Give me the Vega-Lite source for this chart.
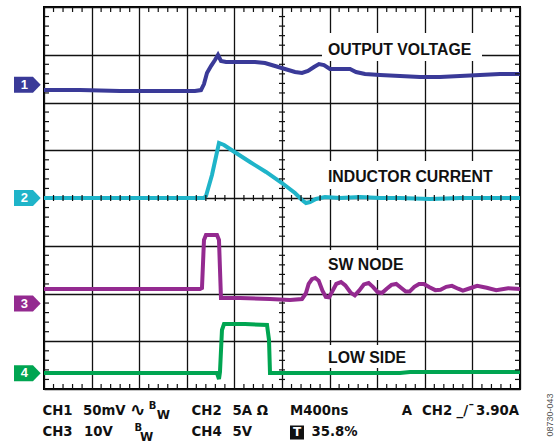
{
  "$schema": "https://vega.github.io/schema/vega-lite/v6.json",
  "width": 476,
  "height": 382,
  "autosize": {"type": "none"},
  "padding": {"left": 44, "top": 7, "right": 35, "bottom": 58},
  "background": "white",
  "config": {
    "view": {"stroke": "black", "strokeWidth": 2, "fill": "white"},
    "axis": {"labels": false, "title": null, "grid": false, "domain": false}
  },
  "datasets": {
    "traces": [
      {"ch": "1", "t": 0, "v": 6.262}, {"ch": "1", "t": 0.756, "v": 6.26}, {"ch": "1", "t": 1.597, "v": 6.241}, {"ch": "1", "t": 2.437, "v": 6.24}, {"ch": "1", "t": 3.172, "v": 6.24}, {"ch": "1", "t": 3.298, "v": 6.26}, {"ch": "1", "t": 3.361, "v": 6.387}, {"ch": "1", "t": 3.424, "v": 6.618}, {"ch": "1", "t": 3.508, "v": 6.764}, {"ch": "1", "t": 3.592, "v": 6.89}, {"ch": "1", "t": 3.655, "v": 6.995}, {"ch": "1", "t": 3.718, "v": 6.869}, {"ch": "1", "t": 3.824, "v": 6.848}, {"ch": "1", "t": 4.118, "v": 6.848}, {"ch": "1", "t": 4.433, "v": 6.848}, {"ch": "1", "t": 4.643, "v": 6.827}, {"ch": "1", "t": 4.853, "v": 6.764}, {"ch": "1", "t": 5.063, "v": 6.702}, {"ch": "1", "t": 5.273, "v": 6.639}, {"ch": "1", "t": 5.42, "v": 6.618}, {"ch": "1", "t": 5.546, "v": 6.66}, {"ch": "1", "t": 5.672, "v": 6.743}, {"ch": "1", "t": 5.777, "v": 6.806}, {"ch": "1", "t": 5.882, "v": 6.785}, {"ch": "1", "t": 6.008, "v": 6.702}, {"ch": "1", "t": 6.218, "v": 6.702}, {"ch": "1", "t": 6.429, "v": 6.702}, {"ch": "1", "t": 6.555, "v": 6.639}, {"ch": "1", "t": 6.744, "v": 6.597}, {"ch": "1", "t": 7.059, "v": 6.576}, {"ch": "1", "t": 7.479, "v": 6.555}, {"ch": "1", "t": 7.899, "v": 6.534}, {"ch": "1", "t": 8.319, "v": 6.534}, {"ch": "1", "t": 8.739, "v": 6.555}, {"ch": "1", "t": 9.16, "v": 6.576}, {"ch": "1", "t": 9.58, "v": 6.597}, {"ch": "1", "t": 10, "v": 6.597},
      {"ch": "2", "t": 0, "v": 4.0}, {"ch": "2", "t": 1.597, "v": 4.0}, {"ch": "2", "t": 3.361, "v": 4.0}, {"ch": "2", "t": 3.403, "v": 4.042}, {"ch": "2", "t": 3.529, "v": 4.482}, {"ch": "2", "t": 3.676, "v": 5.152}, {"ch": "2", "t": 3.782, "v": 5.11}, {"ch": "2", "t": 3.971, "v": 4.984}, {"ch": "2", "t": 4.328, "v": 4.754}, {"ch": "2", "t": 4.664, "v": 4.545}, {"ch": "2", "t": 5.0, "v": 4.314}, {"ch": "2", "t": 5.273, "v": 4.105}, {"ch": "2", "t": 5.42, "v": 3.958}, {"ch": "2", "t": 5.504, "v": 3.895}, {"ch": "2", "t": 5.588, "v": 3.916}, {"ch": "2", "t": 5.714, "v": 3.979}, {"ch": "2", "t": 5.903, "v": 4.021}, {"ch": "2", "t": 6.218, "v": 4.0}, {"ch": "2", "t": 6.639, "v": 4.021}, {"ch": "2", "t": 7.059, "v": 4.0}, {"ch": "2", "t": 7.479, "v": 4.0}, {"ch": "2", "t": 8.109, "v": 3.979}, {"ch": "2", "t": 8.739, "v": 4.0}, {"ch": "2", "t": 9.37, "v": 4.0}, {"ch": "2", "t": 10, "v": 4.0},
      {"ch": "3", "t": 0, "v": 2.094}, {"ch": "3", "t": 1.597, "v": 2.094}, {"ch": "3", "t": 3.277, "v": 2.094}, {"ch": "3", "t": 3.319, "v": 2.115}, {"ch": "3", "t": 3.361, "v": 3.12}, {"ch": "3", "t": 3.403, "v": 3.225}, {"ch": "3", "t": 3.634, "v": 3.225}, {"ch": "3", "t": 3.676, "v": 3.12}, {"ch": "3", "t": 3.718, "v": 1.906}, {"ch": "3", "t": 4.118, "v": 1.906}, {"ch": "3", "t": 4.748, "v": 1.885}, {"ch": "3", "t": 5.168, "v": 1.864}, {"ch": "3", "t": 5.42, "v": 1.885}, {"ch": "3", "t": 5.5, "v": 2.0}, {"ch": "3", "t": 5.56, "v": 2.2}, {"ch": "3", "t": 5.63, "v": 2.3}, {"ch": "3", "t": 5.7, "v": 2.325}, {"ch": "3", "t": 5.77, "v": 2.27}, {"ch": "3", "t": 5.85, "v": 2.06}, {"ch": "3", "t": 5.92, "v": 1.93}, {"ch": "3", "t": 5.99, "v": 1.92}, {"ch": "3", "t": 6.06, "v": 2.05}, {"ch": "3", "t": 6.14, "v": 2.2}, {"ch": "3", "t": 6.24, "v": 2.24}, {"ch": "3", "t": 6.33, "v": 2.17}, {"ch": "3", "t": 6.44, "v": 2.02}, {"ch": "3", "t": 6.53, "v": 1.96}, {"ch": "3", "t": 6.62, "v": 2.06}, {"ch": "3", "t": 6.72, "v": 2.19}, {"ch": "3", "t": 6.82, "v": 2.22}, {"ch": "3", "t": 6.91, "v": 2.14}, {"ch": "3", "t": 7.01, "v": 2.03}, {"ch": "3", "t": 7.1, "v": 2.01}, {"ch": "3", "t": 7.2, "v": 2.1}, {"ch": "3", "t": 7.3, "v": 2.18}, {"ch": "3", "t": 7.4, "v": 2.2}, {"ch": "3", "t": 7.5, "v": 2.12}, {"ch": "3", "t": 7.6, "v": 2.04}, {"ch": "3", "t": 7.68, "v": 2.04}, {"ch": "3", "t": 7.78, "v": 2.14}, {"ch": "3", "t": 7.88, "v": 2.2}, {"ch": "3", "t": 7.98, "v": 2.2}, {"ch": "3", "t": 8.1, "v": 2.13}, {"ch": "3", "t": 8.22, "v": 2.07}, {"ch": "3", "t": 8.33, "v": 2.08}, {"ch": "3", "t": 8.45, "v": 2.14}, {"ch": "3", "t": 8.57, "v": 2.16}, {"ch": "3", "t": 8.7, "v": 2.1}, {"ch": "3", "t": 8.8, "v": 2.06}, {"ch": "3", "t": 8.95, "v": 2.11}, {"ch": "3", "t": 9.1, "v": 2.16}, {"ch": "3", "t": 9.3, "v": 2.12}, {"ch": "3", "t": 9.5, "v": 2.07}, {"ch": "3", "t": 9.75, "v": 2.11}, {"ch": "3", "t": 10, "v": 2.094},
      {"ch": "4", "t": 0, "v": 0.335}, {"ch": "4", "t": 1.597, "v": 0.335}, {"ch": "4", "t": 3.277, "v": 0.335}, {"ch": "4", "t": 3.634, "v": 0.335}, {"ch": "4", "t": 3.676, "v": 0.209}, {"ch": "4", "t": 3.697, "v": 0.356}, {"ch": "4", "t": 3.739, "v": 1.236}, {"ch": "4", "t": 3.782, "v": 1.361}, {"ch": "4", "t": 4.223, "v": 1.361}, {"ch": "4", "t": 4.685, "v": 1.34}, {"ch": "4", "t": 4.727, "v": 1.026}, {"ch": "4", "t": 4.748, "v": 0.335}, {"ch": "4", "t": 5.378, "v": 0.335}, {"ch": "4", "t": 7.479, "v": 0.335}, {"ch": "4", "t": 7.689, "v": 0.356}, {"ch": "4", "t": 10, "v": 0.356}
    ],
    "xdiv": [
      {"d": 0.2}, {"d": 0.4}, {"d": 0.6}, {"d": 0.8}, {"d": 1.2}, {"d": 1.4}, {"d": 1.6}, {"d": 1.8}, {"d": 2.2}, {"d": 2.4}, {"d": 2.6}, {"d": 2.8}, {"d": 3.2}, {"d": 3.4}, {"d": 3.6}, {"d": 3.8}, {"d": 4.2}, {"d": 4.4}, {"d": 4.6}, {"d": 4.8}, {"d": 5.2}, {"d": 5.4}, {"d": 5.6}, {"d": 5.8}, {"d": 6.2}, {"d": 6.4}, {"d": 6.6}, {"d": 6.8}, {"d": 7.2}, {"d": 7.4}, {"d": 7.6}, {"d": 7.8}, {"d": 8.2}, {"d": 8.4}, {"d": 8.6}, {"d": 8.8}, {"d": 9.2}, {"d": 9.4}, {"d": 9.6}, {"d": 9.8}
    ],
    "ydiv": [
      {"d": 0.2}, {"d": 0.4}, {"d": 0.6}, {"d": 0.8}, {"d": 1.2}, {"d": 1.4}, {"d": 1.6}, {"d": 1.8}, {"d": 2.2}, {"d": 2.4}, {"d": 2.6}, {"d": 2.8}, {"d": 3.2}, {"d": 3.4}, {"d": 3.6}, {"d": 3.8}, {"d": 4.2}, {"d": 4.4}, {"d": 4.6}, {"d": 4.8}, {"d": 5.2}, {"d": 5.4}, {"d": 5.6}, {"d": 5.8}, {"d": 6.2}, {"d": 6.4}, {"d": 6.6}, {"d": 6.8}, {"d": 7.2}, {"d": 7.4}, {"d": 7.6}, {"d": 7.8}
    ],
    "boxes": [
      {"x1": 5.84, "x2": 9.202, "y1": 7.455, "y2": 6.869},
      {"x1": 5.84, "x2": 9.538, "y1": 4.775, "y2": 4.189},
      {"x1": 5.84, "x2": 7.71, "y1": 2.911, "y2": 2.283},
      {"x1": 5.84, "x2": 7.773, "y1": 0.921, "y2": 0.44}
    ],
    "labels": [
      {"label": "OUTPUT VOLTAGE", "x": 5.966, "y": 7.099},
      {"label": "INDUCTOR CURRENT", "x": 5.966, "y": 4.44},
      {"label": "SW NODE", "x": 5.966, "y": 2.597},
      {"label": "LOW SIDE", "x": 5.966, "y": 0.649}
    ],
    "markers": [
      {"ch": "1", "x": -0.35, "y": 6.37},
      {"ch": "2", "x": -0.35, "y": 4.0},
      {"ch": "3", "x": -0.35, "y": 1.79},
      {"ch": "4", "x": -0.35, "y": 0.33}
    ],
    "footer": [
      {"text": "CH1", "x": -0.032, "y": -0.471, "kind": "main"},
      {"text": "50mV", "x": 0.819, "y": -0.471, "kind": "main"},
      {"text": "∿", "x": 1.8, "y": -0.471, "kind": "wave"},
      {"text": "CH2", "x": 3.099, "y": -0.471, "kind": "main"},
      {"text": "5A Ω", "x": 3.962, "y": -0.471, "kind": "main"},
      {"text": "M400ns", "x": 5.168, "y": -0.471, "kind": "main"},
      {"text": "A", "x": 7.517, "y": -0.471, "kind": "main"},
      {"text": "CH2", "x": 7.941, "y": -0.471, "kind": "main"},
      {"text": "_/¯", "x": 8.668, "y": -0.471, "kind": "main"},
      {"text": "3.90A", "x": 9.076, "y": -0.471, "kind": "main"},
      {"text": "CH3", "x": -0.032, "y": -0.909, "kind": "main"},
      {"text": "10V", "x": 0.84, "y": -0.909, "kind": "main"},
      {"text": "CH4", "x": 3.099, "y": -0.909, "kind": "main"},
      {"text": "5V", "x": 3.962, "y": -0.909, "kind": "main"},
      {"text": "35.8%", "x": 5.62, "y": -0.909, "kind": "main"},
      {"text": "B", "x": 2.2, "y": -0.346, "kind": "sup"},
      {"text": "B", "x": 1.901, "y": -0.813, "kind": "sup"},
      {"text": "W", "x": 2.37, "y": -0.553, "kind": "sub"},
      {"text": "W", "x": 2.017, "y": -1.011, "kind": "sub"}
    ],
    "tbox": [
      {"x1": 5.168, "x2": 5.462, "y1": -0.762, "y2": -1.055, "x": 5.315, "y": -0.909, "text": "T"}
    ],
    "fig": [
      {"text": "08730-043", "x": 10.63, "y": -0.545}
    ]
  },
  "layer": [
    {
      "data": {"name": "boxes"},
      "mark": {"type": "rect", "fill": "white", "stroke": null},
      "encoding": {
        "x": {"field": "x1", "type": "quantitative", "scale": {"domain": [0, 10], "nice": false, "zero": false},
              "axis": {"orient": "bottom", "offset": -382, "tickCount": 10, "grid": true, "gridColor": "#111111", "gridWidth": 1.3, "gridOpacity": 1, "ticks": true, "tickSize": 4, "tickColor": "#111111", "zindex": 0}},
        "x2": {"field": "x2"},
        "y": {"field": "y1", "type": "quantitative", "scale": {"domain": [0, 8], "nice": false, "zero": false},
              "axis": {"orient": "right", "offset": -476, "tickCount": 8, "grid": true, "gridColor": "#111111", "gridWidth": 1.3, "gridOpacity": 1, "ticks": true, "tickSize": 4, "tickColor": "#111111", "zindex": 0}},
        "y2": {"field": "y2"}
      }
    },
    {
      "data": {"name": "traces"},
      "mark": {"type": "line", "strokeWidth": 4, "interpolate": "linear"},
      "encoding": {
        "x": {"field": "t", "type": "quantitative", "scale": {"domain": [0, 10], "nice": false, "zero": false}, "axis": null},
        "y": {"field": "v", "type": "quantitative", "scale": {"domain": [0, 8], "nice": false, "zero": false}, "axis": null},
        "color": {"field": "ch", "type": "nominal", "scale": {"domain": ["1", "2", "3", "4"], "range": ["#3a3a98", "#1fb4c9", "#942a90", "#00a551"]}, "legend": null}
      }
    },
    {
      "mark": {"type": "rule", "color": "#111111", "strokeWidth": 1.3},
      "encoding": {
        "y": {"datum": 4, "type": "quantitative", "scale": {"domain": [0, 8], "nice": false, "zero": false}, "axis": null}
      }
    },
    {
      "mark": {"type": "rule", "color": "#111111", "strokeWidth": 1.3},
      "encoding": {
        "x": {"datum": 5, "type": "quantitative", "scale": {"domain": [0, 10], "nice": false, "zero": false}, "axis": null}
      }
    },
    {
      "data": {"name": "xdiv"},
      "mark": {"type": "rule", "color": "#111111", "strokeWidth": 1.2},
      "encoding": {
        "x": {"field": "d", "type": "quantitative", "scale": {"domain": [0, 10], "nice": false, "zero": false}, "axis": null},
        "y": {"datum": 8, "type": "quantitative", "scale": {"domain": [0, 8], "nice": false, "zero": false}, "axis": null},
        "y2": {"datum": 7.895}
      }
    },
    {
      "data": {"name": "xdiv"},
      "mark": {"type": "rule", "color": "#111111", "strokeWidth": 1.2},
      "encoding": {
        "x": {"field": "d", "type": "quantitative", "scale": {"domain": [0, 10], "nice": false, "zero": false}, "axis": null},
        "y": {"datum": 0, "type": "quantitative", "scale": {"domain": [0, 8], "nice": false, "zero": false}, "axis": null},
        "y2": {"datum": 0.105}
      }
    },
    {
      "data": {"name": "xdiv"},
      "mark": {"type": "rule", "color": "#111111", "strokeWidth": 1.2},
      "encoding": {
        "x": {"field": "d", "type": "quantitative", "scale": {"domain": [0, 10], "nice": false, "zero": false}, "axis": null},
        "y": {"datum": 3.937, "type": "quantitative", "scale": {"domain": [0, 8], "nice": false, "zero": false}, "axis": null},
        "y2": {"datum": 4.063}
      }
    },
    {
      "data": {"name": "ydiv"},
      "mark": {"type": "rule", "color": "#111111", "strokeWidth": 1.2},
      "encoding": {
        "y": {"field": "d", "type": "quantitative", "scale": {"domain": [0, 8], "nice": false, "zero": false}, "axis": null},
        "x": {"datum": 0, "type": "quantitative", "scale": {"domain": [0, 10], "nice": false, "zero": false}, "axis": null},
        "x2": {"datum": 0.105}
      }
    },
    {
      "data": {"name": "ydiv"},
      "mark": {"type": "rule", "color": "#111111", "strokeWidth": 1.2},
      "encoding": {
        "y": {"field": "d", "type": "quantitative", "scale": {"domain": [0, 8], "nice": false, "zero": false}, "axis": null},
        "x": {"datum": 10, "type": "quantitative", "scale": {"domain": [0, 10], "nice": false, "zero": false}, "axis": null},
        "x2": {"datum": 9.895}
      }
    },
    {
      "data": {"name": "ydiv"},
      "mark": {"type": "rule", "color": "#111111", "strokeWidth": 1.2},
      "encoding": {
        "y": {"field": "d", "type": "quantitative", "scale": {"domain": [0, 8], "nice": false, "zero": false}, "axis": null},
        "x": {"datum": 4.937, "type": "quantitative", "scale": {"domain": [0, 10], "nice": false, "zero": false}, "axis": null},
        "x2": {"datum": 5.063}
      }
    },
    {
      "data": {"name": "markers"},
      "mark": {"type": "point", "shape": "M-1,-0.6L0.42,-0.6L1,0L0.42,0.6L-1,0.6Z", "size": 713, "filled": true, "opacity": 1, "strokeWidth": 0},
      "encoding": {
        "x": {"field": "x", "type": "quantitative", "scale": {"domain": [0, 10], "nice": false, "zero": false}, "axis": null},
        "y": {"field": "y", "type": "quantitative", "scale": {"domain": [0, 8], "nice": false, "zero": false}, "axis": null},
        "color": {"field": "ch", "type": "nominal", "scale": {"domain": ["1", "2", "3", "4"], "range": ["#3a3a98", "#1fb4c9", "#942a90", "#00a551"]}, "legend": null}
      }
    },
    {
      "data": {"name": "markers"},
      "mark": {"type": "text", "color": "white", "font": "Liberation Sans", "fontWeight": "bold", "fontSize": 13, "dx": -3, "align": "center", "baseline": "middle"},
      "encoding": {
        "x": {"field": "x", "type": "quantitative", "scale": {"domain": [0, 10], "nice": false, "zero": false}, "axis": null},
        "y": {"field": "y", "type": "quantitative", "scale": {"domain": [0, 8], "nice": false, "zero": false}, "axis": null},
        "text": {"field": "ch"}
      }
    },
    {
      "data": {"name": "labels"},
      "mark": {"type": "text", "color": "#111111", "font": "Liberation Sans", "fontWeight": "bold", "fontSize": 15.8, "align": "left", "baseline": "middle"},
      "encoding": {
        "x": {"field": "x", "type": "quantitative", "scale": {"domain": [0, 10], "nice": false, "zero": false}, "axis": null},
        "y": {"field": "y", "type": "quantitative", "scale": {"domain": [0, 8], "nice": false, "zero": false}, "axis": null},
        "text": {"field": "label"}
      }
    },
    {
      "data": {"name": "footer"},
      "transform": [{"filter": "datum.kind === 'main'"}],
      "mark": {"type": "text", "color": "#111111", "font": "DejaVu Sans", "fontWeight": "bold", "fontSize": 13.3, "align": "left", "baseline": "middle"},
      "encoding": {
        "x": {"field": "x", "type": "quantitative", "scale": {"domain": [0, 10], "nice": false, "zero": false}, "axis": null},
        "y": {"field": "y", "type": "quantitative", "scale": {"domain": [0, 8], "nice": false, "zero": false}, "axis": null},
        "text": {"field": "text"}
      }
    },
    {
      "data": {"name": "footer"},
      "transform": [{"filter": "datum.kind === 'wave'"}],
      "mark": {"type": "text", "color": "#111111", "font": "DejaVu Sans", "fontWeight": "bold", "fontSize": 19, "align": "left", "baseline": "middle", "dy": -1},
      "encoding": {
        "x": {"field": "x", "type": "quantitative", "scale": {"domain": [0, 10], "nice": false, "zero": false}, "axis": null},
        "y": {"field": "y", "type": "quantitative", "scale": {"domain": [0, 8], "nice": false, "zero": false}, "axis": null},
        "text": {"field": "text"}
      }
    },
    {
      "data": {"name": "footer"},
      "transform": [{"filter": "datum.kind === 'sup'"}],
      "mark": {"type": "text", "color": "#111111", "font": "DejaVu Sans", "fontWeight": "bold", "fontSize": 10, "align": "left", "baseline": "middle"},
      "encoding": {
        "x": {"field": "x", "type": "quantitative", "scale": {"domain": [0, 10], "nice": false, "zero": false}, "axis": null},
        "y": {"field": "y", "type": "quantitative", "scale": {"domain": [0, 8], "nice": false, "zero": false}, "axis": null},
        "text": {"field": "text"}
      }
    },
    {
      "data": {"name": "footer"},
      "transform": [{"filter": "datum.kind === 'sub'"}],
      "mark": {"type": "text", "color": "#111111", "font": "DejaVu Sans", "fontWeight": "bold", "fontSize": 12, "align": "left", "baseline": "middle"},
      "encoding": {
        "x": {"field": "x", "type": "quantitative", "scale": {"domain": [0, 10], "nice": false, "zero": false}, "axis": null},
        "y": {"field": "y", "type": "quantitative", "scale": {"domain": [0, 8], "nice": false, "zero": false}, "axis": null},
        "text": {"field": "text"}
      }
    },
    {
      "data": {"name": "tbox"},
      "mark": {"type": "rect", "fill": "#111111"},
      "encoding": {
        "x": {"field": "x1", "type": "quantitative", "scale": {"domain": [0, 10], "nice": false, "zero": false}, "axis": null},
        "x2": {"field": "x2"},
        "y": {"field": "y1", "type": "quantitative", "scale": {"domain": [0, 8], "nice": false, "zero": false}, "axis": null},
        "y2": {"field": "y2"}
      }
    },
    {
      "data": {"name": "tbox"},
      "mark": {"type": "text", "color": "white", "font": "DejaVu Sans", "fontWeight": "bold", "fontSize": 12, "align": "center", "baseline": "middle"},
      "encoding": {
        "x": {"field": "x", "type": "quantitative", "scale": {"domain": [0, 10], "nice": false, "zero": false}, "axis": null},
        "y": {"field": "y", "type": "quantitative", "scale": {"domain": [0, 8], "nice": false, "zero": false}, "axis": null},
        "text": {"field": "text"}
      }
    },
    {
      "data": {"name": "fig"},
      "mark": {"type": "text", "color": "#555555", "font": "Liberation Sans", "fontSize": 9, "angle": 270, "align": "center", "baseline": "middle"},
      "encoding": {
        "x": {"field": "x", "type": "quantitative", "scale": {"domain": [0, 10], "nice": false, "zero": false}, "axis": null},
        "y": {"field": "y", "type": "quantitative", "scale": {"domain": [0, 8], "nice": false, "zero": false}, "axis": null},
        "text": {"field": "text"}
      }
    }
  ],
  "resolve": {"axis": {"x": "independent", "y": "independent"}}
}
